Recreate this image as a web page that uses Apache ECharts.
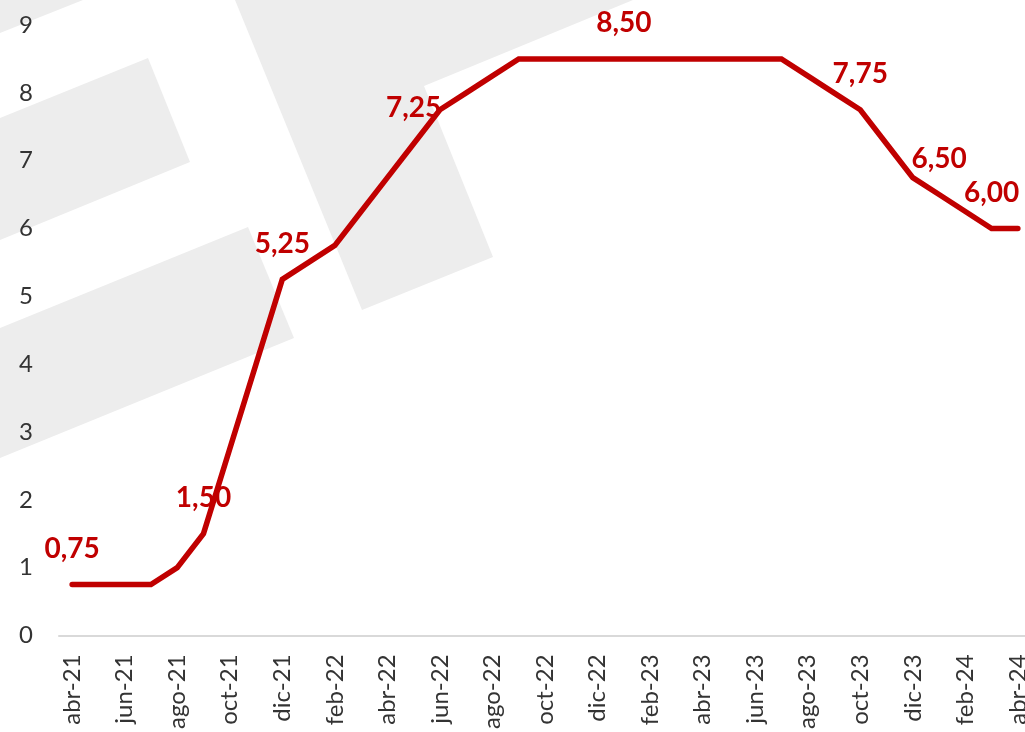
<!DOCTYPE html>
<html>
<head>
<meta charset="utf-8">
<script src="https://cdn.jsdelivr.net/npm/echarts@6/dist/echarts.min.js"></script>
<style>
  html, body { margin: 0; padding: 0; overflow: hidden; background: #fff; }
  #chart { width: 1031px; height: 732px; }
</style>
</head>
<body>
<div id="chart"></div>
<script>
// tasa de política monetaria, mensual abr-21 .. abr-24
const months = [
  'abr-21', 'may-21', 'jun-21', 'jul-21', 'ago-21', 'sep-21', 'oct-21', 'nov-21', 'dic-21',
  'ene-22', 'feb-22', 'mar-22', 'abr-22', 'may-22', 'jun-22', 'jul-22', 'ago-22', 'sep-22',
  'oct-22', 'nov-22', 'dic-22', 'ene-23', 'feb-23', 'mar-23', 'abr-23', 'may-23', 'jun-23',
  'jul-23', 'ago-23', 'sep-23', 'oct-23', 'nov-23', 'dic-23', 'ene-24', 'feb-24', 'mar-24',
  'abr-24'
];
const rates = [
  0.75, 0.75, 0.75, 0.75, 1.00, 1.50, 2.75, 4.00, 5.25,
  5.50, 5.75, 6.25, 6.75, 7.25, 7.75, 8.00, 8.25, 8.50,
  8.50, 8.50, 8.50, 8.50, 8.50, 8.50, 8.50, 8.50, 8.50,
  8.50, 8.25, 8.00, 7.75, 7.25, 6.75, 6.50, 6.25, 6.00,
  6.00
];
// months that carry a value label
const labelled = ['abr-21', 'sep-21', 'dic-21', 'may-22', 'ene-23', 'oct-23', 'ene-24', 'mar-24'];
const yTicks = { min: 0, max: 9, step: 1 };

const RED = '#c00000';
const FONT = 'Lato, "Liberation Sans", sans-serif';

// grey logo shapes in the background (decoration only)
const watermark = [
  [[0, 0], [83, 0], [0, 33]],
  [[0, 118], [148, 58], [190, 162], [0, 240]],
  [[0, 328], [248, 227], [294, 338], [0, 458]],
  [[235, 0], [633, 0], [424, 86], [493, 257], [362, 310]]
];

const chart = echarts.init(document.getElementById('chart'), null, { renderer: 'canvas' });

chart.setOption({
  animation: false,
  backgroundColor: '#fff',
  graphic: watermark.map(pts => ({
    type: 'polygon',
    silent: true,
    z: -10,
    shape: { points: pts },
    style: { fill: '#ededed' }
  })),
  grid: { left: 59, right: 0, top: 25, bottom: 94 },
  xAxis: {
    type: 'category',
    data: months,
    boundaryGap: true,
    axisLine: { lineStyle: { color: '#d9d9d9', width: 2 } },
    axisTick: { interval: 1, length: 9, lineStyle: { color: '#d9d9d9', width: 2 } },
    axisLabel: {
      interval: 1,
      rotate: 90,
      margin: 19,
      color: '#333',
      fontFamily: FONT,
      fontSize: 24
    }
  },
  yAxis: {
    type: 'value',
    min: yTicks.min,
    max: yTicks.max,
    interval: yTicks.step,
    axisLine: { show: false },
    axisTick: { show: false },
    splitLine: { show: false },
    axisLabel: { margin: 26, color: '#333', fontFamily: FONT, fontSize: 24 }
  },
  series: [{
    type: 'line',
    data: rates.map((v, i) => ({
      value: v,
      label: { show: labelled.includes(months[i]) }
    })),
    symbol: 'circle',
    symbolSize: 1,
    showSymbol: true,
    itemStyle: { color: 'rgba(0,0,0,0)' },
    lineStyle: { color: RED, width: 5.5, cap: 'round', join: 'miter' },
    label: {
      position: 'top',
      distance: 21,
      color: RED,
      fontFamily: FONT,
      fontWeight: 'bold',
      fontSize: 28,
      formatter: p => p.value.toFixed(2).replace('.', ',')
    },
    labelLayout: { hideOverlap: false },
    z: 5
  }]
});
</script>
</body>
</html>
